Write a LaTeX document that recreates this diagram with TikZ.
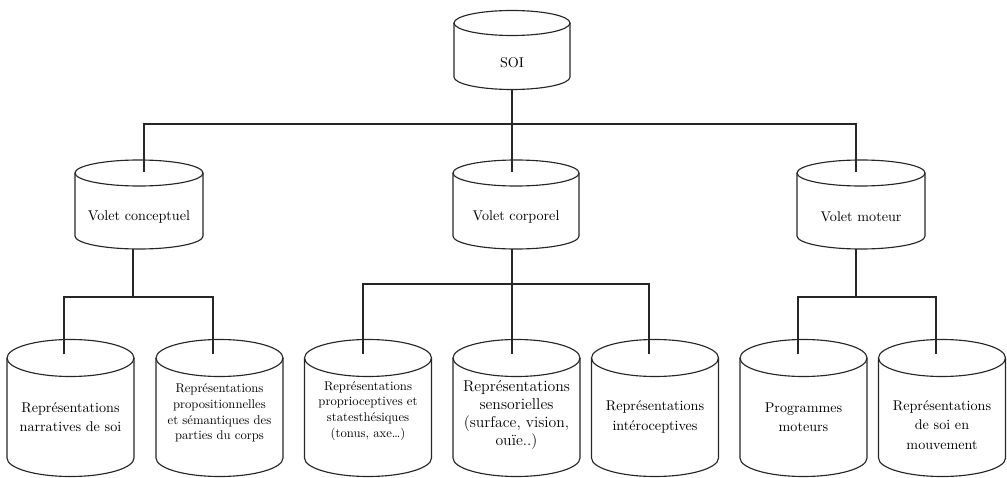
\documentclass[tikz,border=0pt]{standalone}
\usepackage{fontspec}
\tikzset{
  cyl/.style={draw=black!85, line width=0.85pt},
  conn/.style={draw=black!85, line width=0.85pt},
  lbl/.style={align=center, inner sep=0pt, font=\fontsize{10.6}{14.5}\selectfont},
  lblsmall/.style={align=center, inner sep=0pt, font=\fontsize{9.5}{11.8}\selectfont},
  lblbig/.style={align=center, inner sep=0pt, font=\fontsize{11.8}{13.6}\selectfont},
}
% #1 cx, #2 top ellipse centre y, #3 bottom ellipse centre y, #4 rx, #5 ry
\newcommand\drawcyl[5]{%
  \draw[cyl] (#1,#2) ellipse [x radius=#4, y radius=#5];
  \draw[cyl] (#1-#4,#2) -- (#1-#4,#3) arc[start angle=180, end angle=0, x radius=#4, y radius=#5] -- (#1+#4,#2);
}
\begin{document}
\begin{tikzpicture}[x=0.75pt,y=-0.75pt]
\useasboundingbox (0,0) rectangle (1007,478);

% cylinders
\drawcyl{512}{23}{77}{58}{12.5}
\drawcyl{139}{173}{236}{64}{13}
\drawcyl{516}{173}{236}{63}{13}
\drawcyl{861}{173}{236}{64}{13}
\drawcyl{70.5}{358}{458}{63.5}{18.5}
\drawcyl{219.5}{358}{458}{63.5}{18.5}
\drawcyl{368}{358}{458}{63.5}{18.5}
\drawcyl{516.5}{358}{458}{63.5}{18.5}
\drawcyl{655}{358}{458}{63.5}{18.5}
\drawcyl{803.5}{358}{458}{63.5}{18.5}
\drawcyl{942}{358}{458}{63.5}{18.5}

% labels
\node[lbl] (soi) at (512,63) {SOI};
\node[lbl] (c1) at (139,217) {Volet conceptuel};
\node[lbl] (c2) at (516,217) {Volet corporel};
\node[lbl] (c3) at (861,217) {Volet moteur};
\node[lbl] (d1) at (70.5,417) {Représentations\\narratives de soi};
\node[lblsmall] (d2) at (219.5,413) {Représentations\\propositionnelles\\et sémantiques des\\parties du corps};
\node[lblsmall] (d3) at (368,411) {Représentations\\proprioceptives et\\statesthésiques\\(tonus, axe…)};
\node[lblbig] (d4) at (516.5,415) {Représentations\\sensorielles\\(surface, vision,\\ouïe..)};
\node[lbl] (d5) at (655,417) {Représentations\\intéroceptives};
\node[lbl] (d6) at (803.5,417) {Programmes\\moteurs};
\node[lbl] (d7) at (942,425) {Représentations\\de soi en\\mouvement};

% connector anchor points
\coordinate (soi-b) at (512,90);
\coordinate (j0) at (512,124);
\coordinate (c1-t) at (144,172);
\coordinate (c2-t) at (512,172);
\coordinate (c3-t) at (856,172);
\coordinate (c1-b) at (133,249);
\coordinate (c2-b) at (512,249);
\coordinate (c3-b) at (856,249);
\coordinate (j1) at (133,297);
\coordinate (j2) at (512,284);
\coordinate (j3) at (856,297);
\coordinate (d1-t) at (64,354);
\coordinate (d2-t) at (213,354);
\coordinate (d3-t) at (363,354);
\coordinate (d4-t) at (512,354);
\coordinate (d5-t) at (649,354);
\coordinate (d6-t) at (798,354);
\coordinate (d7-t) at (936,354);

% connectors
\draw[conn] (soi-b) -- (c2-t);
\draw[conn] (c1-t) |- (j0) -| (c3-t);
\draw[conn] (c1-b) -- (j1);
\draw[conn] (d1-t) |- (j1) -| (d2-t);
\draw[conn] (c2-b) -- (d4-t);
\draw[conn] (d3-t) |- (j2) -| (d5-t);
\draw[conn] (c3-b) -- (j3);
\draw[conn] (d6-t) |- (j3) -| (d7-t);
\end{tikzpicture}
\end{document}
